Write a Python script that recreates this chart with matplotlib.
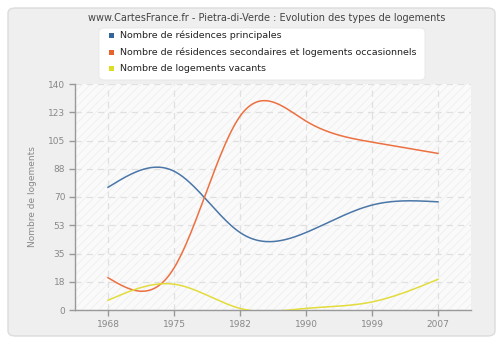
import numpy as np
import matplotlib
matplotlib.use("Agg")
import matplotlib.pyplot as plt
from matplotlib.patches import FancyBboxPatch, Rectangle

years = ["1968", "1975", "1982", "1990", "1999", "2007"]
principales = [76, 86, 48, 48, 65, 67]
secondaires = [20, 26, 120, 117, 104, 97]
vacants = [6, 16, 1, 1, 5, 19]
series_names = ["Nombre de résidences principales",
                "Nombre de résidences secondaires et logements occasionnels",
                "Nombre de logements vacants"]
line_colors = ["#4a76a8", "#ec7040", "#e2dc3c"]
legend_colors = ["#336699", "#e8622c", "#dddd22"]
yticks = [0, 17.5, 35, 52.5, 70, 87.5, 105, 122.5, 140]
ytick_labels = ["0", "18", "35", "53", "70", "88", "105", "123", "140"]
title = "www.CartesFrance.fr - Pietra-di-Verde : Evolution des types de logements"
ylabel = "Nombre de logements"


def natural_spline(x, y, n=300):
    x = np.asarray(x, float); y = np.asarray(y, float)
    k = len(x)
    h = np.diff(x)
    A = np.zeros((k, k)); b = np.zeros(k)
    A[0, 0] = 1; A[-1, -1] = 1
    for i in range(1, k - 1):
        A[i, i - 1] = h[i - 1]
        A[i, i] = 2 * (h[i - 1] + h[i])
        A[i, i + 1] = h[i]
        b[i] = 3 * ((y[i + 1] - y[i]) / h[i] - (y[i] - y[i - 1]) / h[i - 1])
    c = np.linalg.solve(A, b)
    xs = np.linspace(x[0], x[-1], n)
    ys = np.empty_like(xs)
    for j, xv in enumerate(xs):
        i = min(np.searchsorted(x, xv, side="right") - 1, k - 2)
        d = xv - x[i]
        bi = (y[i + 1] - y[i]) / h[i] - h[i] * (2 * c[i] + c[i + 1]) / 3
        di = (c[i + 1] - c[i]) / (3 * h[i])
        ys[j] = y[i] + bi * d + c[i] * d * d + di * d ** 3
    return xs, ys


plt.rcParams["hatch.linewidth"] = 0.5
W, H = 500, 340
fig = plt.figure(figsize=(W / 100, H / 100), dpi=100, facecolor="white")

def fx(px): return px / W
def fy(py): return 1 - py / H

bg = FancyBboxPatch((fx(8), fy(336)), fx(487), (328) / H,
                    boxstyle="round,pad=0,rounding_size=0.015",
                    transform=fig.transFigure, facecolor="#efefef",
                    edgecolor="#dcdcdc", linewidth=1.0, zorder=-10)
fig.patches.append(bg)

ax = fig.add_axes([fx(75), fy(310), fx(471 - 75), (310 - 84) / H])
ax.set_zorder(1)
ax.set_facecolor("#fafafa")
ax.patch.set_hatch("////")
ax.patch.set_edgecolor("#ececec")
ax.patch.set_linewidth(0)

xi = np.arange(len(years))
for vals, col in zip([principales, secondaires, vacants], line_colors):
    xs, ys = natural_spline(xi, vals)
    ax.plot(xs, ys, color=col, linewidth=1.1, zorder=3, clip_on=True)

ax.set_xlim(-0.5, len(years) - 0.5)
ax.set_ylim(0, 140)
ax.set_xticks(xi)
ax.set_xticklabels(years)
ax.set_yticks(yticks)
ax.set_yticklabels(ytick_labels)
ax.grid(True, color="#e0e0e0", linestyle=(0, (5, 4)), linewidth=0.9, zorder=1)
ax.set_axisbelow(True)
for s in ["top", "right"]:
    ax.spines[s].set_visible(False)
for s in ["left", "bottom"]:
    ax.spines[s].set_color("#999999")
    ax.spines[s].set_linewidth(1.0)
ax.tick_params(axis="both", colors="#999999", labelcolor="#888888",
               labelsize=6.5, length=4, width=1.0, pad=3)
ax.set_ylabel(ylabel, color="#888888", fontsize=6.5, labelpad=8)

fig.text(fx(267), fy(18), title, ha="center", va="center",
         fontsize=7, color="#444444")

leg = FancyBboxPatch((fx(99), fy(80)), fx(326), 52 / H,
                     boxstyle="round,pad=0,rounding_size=0.012",
                     transform=fig.transFigure, facecolor="white",
                     edgecolor="#e6e6e6", linewidth=0.6, zorder=1)
fig.patches.append(leg)
for k, (name, col) in enumerate(zip(series_names, legend_colors)):
    yy = [35.5, 52.3, 68.5][k]
    fig.patches.append(Rectangle((fx(109), fy(yy + 2.3)), fx(4.6), 4.6 / H,
                                 transform=fig.transFigure, facecolor=col,
                                 edgecolor="none", zorder=2))
    fig.text(fx(120), fy(yy), name, ha="left", va="center",
             fontsize=6.8, color="#222222")

fig.savefig("out.png", dpi=100, facecolor="white")
